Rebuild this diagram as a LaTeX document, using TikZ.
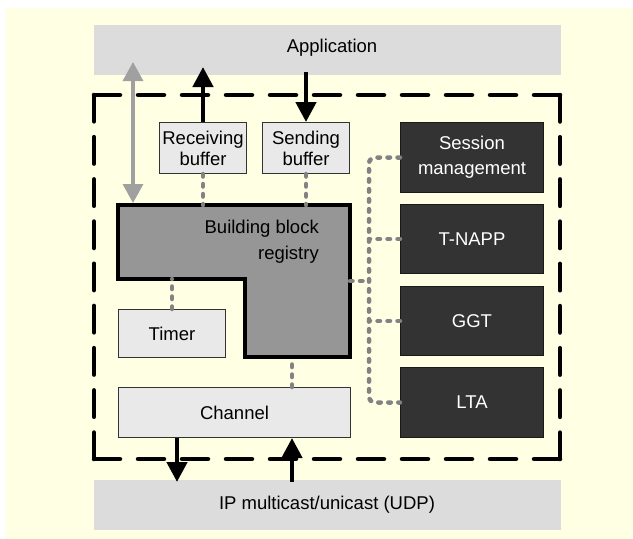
\documentclass[tikz,border=0pt]{standalone}
\usepackage{fontspec}
\setmainfont{Liberation Sans}
\usetikzlibrary{arrows.meta,calc}

\definecolor{paper}{RGB}{255,255,228}
\definecolor{barfill}{RGB}{220,220,220}
\definecolor{boxfill}{RGB}{233,233,233}
\definecolor{regfill}{RGB}{150,150,150}
\definecolor{darkfill}{RGB}{51,51,51}
\definecolor{linkgray}{RGB}{130,130,130}
\definecolor{biarrow}{RGB}{160,160,160}

\tikzset{
  txt/.style={font=\fontsize{18.5pt}{21pt}\selectfont, align=center, inner sep=0pt},
  bar/.style={txt, fill=barfill, anchor=north west},
  lightbox/.style={txt, fill=boxfill, draw=black!80, line width=1pt, anchor=north west},
  darkbox/.style={txt, fill=darkfill, draw=black!90, line width=1pt, text=white,
    anchor=north west, minimum width=143pt, minimum height=70pt},
  frameline/.style={line width=4.5pt, line cap=round, black},
  link/.style={linkgray, line width=4.5pt, line cap=round, dash pattern=on 2.5pt off 7.5pt},
  flow/.style={line width=4.5pt, black, -{Triangle[width=20pt,length=20pt]}},
  grayflow/.style={line width=3.3pt, biarrow, {Triangle[width=20pt,length=19pt]}-{Triangle[width=20pt,length=19pt]}}
}

\begin{document}
\begin{tikzpicture}[x=1pt,y=-1pt]
  % page and tinted panel
  \fill[white] (0,0) rectangle (633,539);
  \fill[paper] (6,8) rectangle (633,539);
  \useasboundingbox (0,0) rectangle (633,539);

  % outer layers
  \node[bar, minimum width=467pt, minimum height=50pt] (app) at (94,25) {};
  \node[txt] (apptext) at (332,48) {Application};
  \node[bar, minimum width=467pt, minimum height=50pt] (ip) at (94,480) {};
  \node[txt] (iptext) at (327,505) {IP multicast/unicast (UDP)};

  % dashed boundary of the protocol stack
  \coordinate (fTL) at (94,95);
  \coordinate (fTR) at (560,95);
  \coordinate (fBR) at (560,459);
  \coordinate (fBL) at (94,459);
  \draw[frameline, dash pattern=on 26pt off 18pt] (fTL) -- (fTR);
  \draw[frameline, dash pattern=on 26.5pt off 15.7pt] (fTR) -- (fBR);
  \draw[frameline, dash pattern=on 26pt off 18pt] (fBR) -- (fBL);
  \draw[frameline, dash pattern=on 26.5pt off 15.7pt] (fBL) -- (fTL);

  % buffers
  \node[lightbox, minimum width=87pt, minimum height=51pt] (rb) at (159,122) {Receiving\\buffer};
  \node[lightbox, minimum width=87pt, minimum height=51pt] (sb) at (262,122) {Sending\\buffer};

  % building block registry (L-shaped)
  \coordinate (regTL) at (118,205);
  \coordinate (regTR) at (350,205);
  \coordinate (regBR) at (350,357);
  \coordinate (regNotch) at (245,279);
  \draw[fill=regfill, line width=3.3pt, line join=miter]
    (regTL) -- (regTR) -- (regBR) -- (regNotch |- regBR) -- (regNotch) -- (regTL |- regNotch) -- cycle;
  \node[txt, align=right, anchor=east, font=\fontsize{18.5pt}{26pt}\selectfont] (regtext) at (319,242) {Building block\\registry};

  % timer and channel
  \node[lightbox, minimum width=107pt, minimum height=48pt] (timer) at (118,309) {Timer};
  \node[lightbox, minimum width=232pt, minimum height=50pt] (chan) at (118,387) {Channel};

  % components
  \node[darkbox, font=\fontsize{18.5pt}{25pt}\selectfont] (sm) at (400,122) {Session\\management};
  \node[darkbox, minimum height=69pt] (tn) at (400,204) {T-NAPP};
  \node[darkbox, minimum height=69pt] (ggt) at (400,286) {GGT};
  \node[darkbox] (lta) at (400,367) {LTA};

  % dotted associations
  \draw[link] (rb.south) -- (rb.south |- regTL);
  \draw[link] (sb.south) -- (sb.south |- regTL);
  \draw[link] (timer.north -| 172,0) -- (172,279);
  \draw[link] (chan.north -| 292,0) -- (292,357);
  \coordinate (busTop) at ($(sm.west)+(-31,0)$);
  \coordinate (busBot) at ($(lta.west)+(-31,0)$);
  \draw[link, rounded corners=6pt] (sm.west) -- (busTop) -- (busBot) -- (lta.west);
  \draw[link] (tn.west) -- (tn.west -| busTop);
  \draw[link] (ggt.west) -- (ggt.west -| busTop);
  \draw[link] (regTR |- 0,281) -- (busTop |- 0,281);

  % data flows
  \draw[flow] (rb.north) -- (203,67);
  \draw[flow] (306,72) -- (sb.north);
  \draw[grayflow] (133,62) -- (133,203);
  \draw[flow] (chan.south -| 177,0) -- (177,482);
  \draw[flow] (292,482) -- (chan.south -| 292,0);
\end{tikzpicture}
\end{document}
